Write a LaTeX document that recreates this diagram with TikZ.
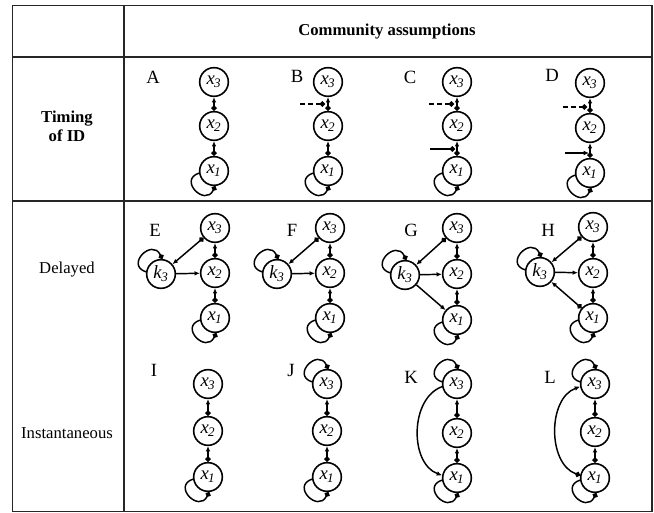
\documentclass[tikz,border=0pt]{standalone}
\usepackage{fontspec}
\setmainfont{Liberation Serif}
\usetikzlibrary{arrows.meta}
\newcommand\xs[1]{\textit{x}\textsubscript{\kern-0.5pt\textit{#1}}}
\newcommand\ks{\textit{k}\textsubscript{\kern-0.5pt\textit{3}}}
\tikzset{
 v/.style={circle,draw,line width=1.2pt,minimum size=21.5pt,inner sep=0pt,font=\fontsize{14}{14}\selectfont},
 e/.style={line width=1.1pt,{Circle[length=4pt]}-{Latex[length=4pt,width=3.5pt]}},
 ea/.style={line width=1.1pt,-{Latex[length=4pt,width=3.5pt]}},
 lp/.style={line width=1.1pt,{Circle[length=4pt]}-},
 dl/.style={line width=1.1pt,dash pattern=on 3.5pt off 2.5pt,-{Circle[length=4pt]}},
 sl/.style={line width=1.1pt,-{Circle[length=4pt]}},
 plab/.style={font=\fontsize{14}{14}\selectfont},
 rlab/.style={font=\fontsize{12.5}{14}\selectfont,align=center},
 grid/.style={line width=0.8pt,black!85},
}
% vertical chain x1->x2->x3
\newcommand\chain[5]{%
 \node[v] (#1c) at (#2,-#3) {\xs{3}};
 \node[v] (#1b) at (#2,-#4) {\xs{2}};
 \node[v] (#1a) at (#2,-#5) {\xs{1}};
 \draw[e] (#1a) -- (#1b);
 \draw[e] (#1b) -- (#1c);
}
% bottom-left loop
\newcommand\lbl[1]{%
 \draw[lp] (#1.275) .. controls ([shift={(-9,-36)}]#1.center) and ([shift={(-36,-9)}]#1.center) .. (#1.188);}
% top-left loop
\newcommand\ltl[1]{%
 \draw[lp] (#1.85) .. controls ([shift={(-9,36)}]#1.center) and ([shift={(-36,9)}]#1.center) .. (#1.172);}
\begin{document}
\begin{tikzpicture}[x=0.75pt,y=0.75pt]
\useasboundingbox (0,0) rectangle (654,-513);
% table
\draw[grid] (12.5,-5.5) rectangle (652,-511.5);
\draw[grid] (124,-5.5) -- (124,-511.5);
\draw[grid] (12.5,-57) -- (652,-57);
\draw[grid] (12.5,-201) -- (652,-201);
\node[font=\bfseries\fontsize{12.5}{12.5}\selectfont] (hdr) at (387,-32) {Community assumptions};
\node[rlab,font=\bfseries\fontsize{12.5}{14.5}\selectfont] (r1) at (67,-126) {Timing\\of ID};
\node[rlab] (r2) at (67,-270) {Delayed};
\node[rlab] (r3) at (67,-433) {Instantaneous};
% Row 1
\node[plab] (lA) at (153,-77) {A};
\chain{A}{214}{82}{126}{171}
\lbl{Aa}
\node[plab] (lB) at (297,-76) {B};
\chain{B}{328}{82}{126}{171}
\lbl{Ba}
\coordinate (Bd0) at (300,-104);
\coordinate (Bd1) at (325,-104);
\draw[dl] (Bd0) -- (Bd1);
\node[plab] (lC) at (410,-77) {C};
\chain{C}{457}{82}{126}{171}
\lbl{Ca}
\coordinate (Cd0) at (429,-104);
\coordinate (Cd1) at (454,-104);
\draw[dl] (Cd0) -- (Cd1);
\coordinate (Cs0) at (430,-149);
\coordinate (Cs1) at (455,-149);
\draw[sl] (Cs0) -- (Cs1);
\node[plab] (lD) at (552,-75) {D};
\chain{D}{590}{83}{128}{173}
\lbl{Da}
\coordinate (Dd0) at (563,-107);
\coordinate (Dd1) at (587,-107);
\draw[dl] (Dd0) -- (Dd1);
\coordinate (Ds0) at (565,-153);
\coordinate (Ds1) at (589,-153);
\draw[ea] (Ds0) -- (Ds1);
% Row 2
\node[plab] (lE) at (155,-230) {E};
\chain{E}{215}{228}{273}{318}
\lbl{Ea}
\node[v] (Ek) at (161,-274) {\ks};
\ltl{Ek}
\draw[ea] (Ek) -- (Eb);
\draw[e] (Ec) -- (Ek);
\node[plab] (lF) at (292,-230) {F};
\chain{F}{330}{228}{273}{318}
\lbl{Fa}
\node[v] (Fk) at (277,-274) {\ks};
\ltl{Fk}
\draw[ea] (Fk) -- (Fb);
\draw[e] (Fc) -- (Fk);
\node[plab] (lG) at (411,-230) {G};
\chain{G}{457}{228}{274}{320}
\lbl{Ga}
\node[v] (Gk) at (405,-275) {\ks};
\ltl{Gk}
\draw[ea] (Gk) -- (Gb);
\draw[e] (Gc) -- (Gk);
\draw[ea] (Gk) -- (Ga);
\node[plab] (lH) at (548,-230) {H};
\chain{H}{593}{227}{273}{318}
\lbl{Ha}
\node[v] (Hk) at (540,-272) {\ks};
\ltl{Hk}
\draw[ea] (Hk) -- (Hb);
\draw[e] (Hc) -- (Hk);
\draw[e] (Ha) -- (Hk);
% Row 3
\node[plab] (lI) at (154,-370) {I};
\chain{I}{208}{384}{431}{477}
\lbl{Ia}
\node[plab] (lJ) at (291,-370) {J};
\chain{J}{327}{384}{431}{477}
\lbl{Ja}
\ltl{Jc}
\node[plab] (lK) at (411,-377) {K};
\chain{K}{457}{384}{433}{478}
\lbl{Ka}
\ltl{Kc}
\draw[ea] (Kc.190) to[out=200,in=160] (Ka.170);
\node[plab] (lL) at (550,-377) {L};
\chain{L}{595}{384}{432}{478}
\lbl{La}
\ltl{Lc}
\draw[e] (La.170) to[out=160,in=200] (Lc.190);
\end{tikzpicture}
\end{document}
